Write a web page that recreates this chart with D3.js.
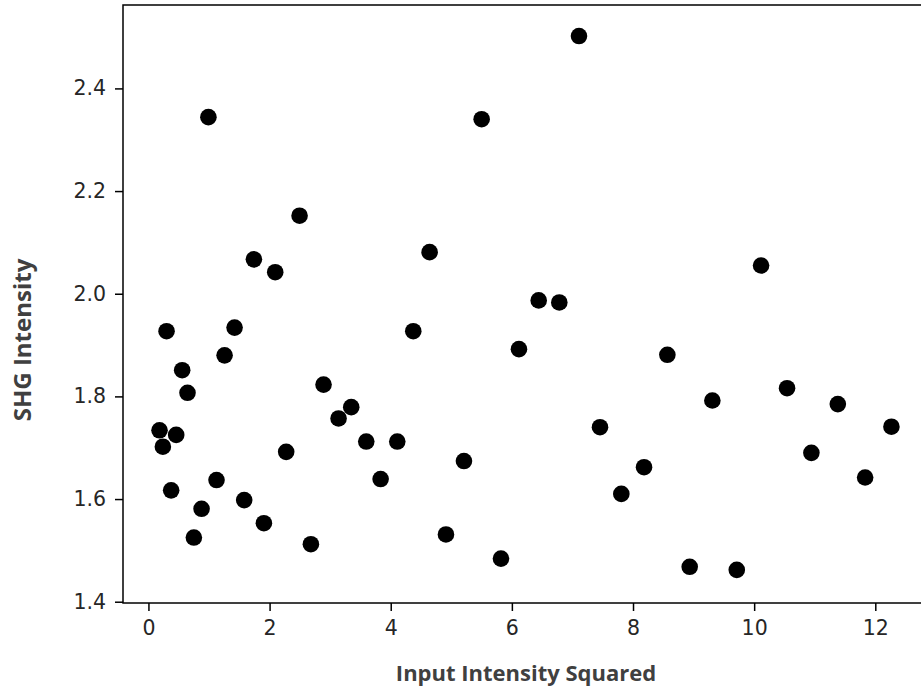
<!DOCTYPE html>
<html>
<head>
<meta charset="utf-8">
<script src="https://cdn.jsdelivr.net/npm/d3@7"></script>
<style>
  body { margin: 0; background: #fff; overflow: hidden; }
  .tick text { font-family: "DejaVu Sans", sans-serif; font-size: 20.5px; fill: #262626; }
  .label { font-family: "Open Sans", sans-serif; font-weight: bold; fill: #404040; }
</style>
</head>
<body>
<svg id="chart" width="921" height="688"></svg>
<script>
// values
var inputSquared = [0.183, 0.238, 0.299, 0.375, 0.458, 0.557, 0.645, 0.750, 0.877, 0.990,
  1.124, 1.257, 1.422, 1.581, 1.741, 1.906, 2.093, 2.274, 2.495, 2.682,
  2.891, 3.139, 3.348, 3.596, 3.833, 4.108, 4.372, 4.642, 4.912, 5.209,
  5.501, 5.820, 6.117, 6.443, 6.783, 7.108, 7.455, 7.807, 8.182, 8.567,
  8.936, 9.310, 9.713, 10.114, 10.543, 10.945, 11.381, 11.832, 12.266];
var shgIntensity = [1.734, 1.702, 1.927, 1.617, 1.725, 1.851, 1.807, 1.525, 1.581, 2.344,
  1.637, 1.880, 1.934, 1.598, 2.067, 1.553, 2.042, 1.692, 2.152, 1.512,
  1.823, 1.757, 1.779, 1.712, 1.639, 1.712, 1.927, 2.081, 1.531, 1.674,
  2.340, 1.484, 1.892, 1.987, 1.983, 2.502, 1.740, 1.610, 1.662, 1.881,
  1.468, 1.792, 1.462, 2.055, 1.816, 1.690, 1.785, 1.642, 1.741];

var xTicks = [0, 2, 4, 6, 8, 10, 12];
var yTicks = [1.4, 1.6, 1.8, 2.0, 2.2, 2.4];

var margin = {left: 123, top: 5};
var plotW = 805, plotH = 598;

var svg = d3.select("#chart");
var g = svg.append("g").attr("transform", "translate(" + margin.left + "," + margin.top + ")");

var x = d3.scaleLinear().domain([-0.42, 12.87]).range([0, plotW]);
var y = d3.scaleLinear().domain([1.3975, 2.5625]).range([plotH, 0]);

var points = inputSquared.map(function(d, i) {
  return {x: d, y: shgIntensity[i]};
});

g.selectAll("circle")
  .data(points)
  .enter()
  .append("circle")
  .attr("cx", function(d) { return x(d.x); })
  .attr("cy", function(d) { return y(d.y); })
  .attr("r", 8.3)
  .attr("fill", "#000");

// frame (right side runs off the picture, as in the original)
g.append("rect")
  .attr("width", plotW)
  .attr("height", plotH)
  .attr("fill", "none")
  .attr("stroke", "#000")
  .attr("stroke-width", 1.5);

var xAxis = g.append("g")
  .attr("transform", "translate(0," + plotH + ")")
  .call(d3.axisBottom(x).tickValues(xTicks).tickFormat(d3.format("d")).tickSize(8).tickPadding(9));

var yAxis = g.append("g")
  .call(d3.axisLeft(y).tickValues(yTicks).tickFormat(d3.format(".1f")).tickSize(8).tickPadding(9));

[xAxis, yAxis].forEach(function(a) {
  a.select(".domain").remove();
  a.selectAll(".tick line").attr("stroke", "#000").attr("stroke-width", 1.5);
});

svg.append("text")
  .attr("class", "label")
  .attr("x", 526)
  .attr("y", 681)
  .attr("text-anchor", "middle")
  .style("font-size", "22px")
  .text("Input Intensity Squared");

svg.append("text")
  .attr("class", "label")
  .attr("transform", "translate(31,340) rotate(-90)")
  .attr("text-anchor", "middle")
  .style("font-size", "24px")
  .text("SHG Intensity");
</script>
</body>
</html>
